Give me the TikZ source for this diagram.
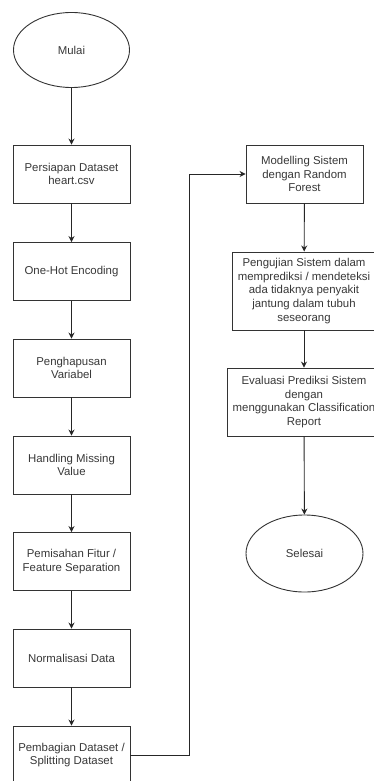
\documentclass[tikz,border=0pt]{standalone}
\usepackage{fontspec}
\setmainfont{Liberation Sans}
\usetikzlibrary{shapes.geometric,arrows.meta}
\begin{document}
\begin{tikzpicture}[x=1pt,y=-1pt,
  every node/.style={font=\fontsize{11.4}{13.7}\selectfont, text=black!78, align=center, inner sep=0pt},
  procbox/.style={draw=black!80, line width=0.9pt, minimum width=117pt, minimum height=58pt},
  termnode/.style={draw=black!80, line width=0.9pt, ellipse, minimum width=116pt, minimum height=75pt},
  flow/.style={draw=black!85, line width=0.9pt, -{Stealth[length=6pt,width=6pt]}}
]
\useasboundingbox (0,0) rectangle (373,781);
\fill[white] (0,0) rectangle (373,781);
\node[termnode] (mulai) at (71.5,50) {Mulai};
\node[procbox] (b1) at (71.5,174) {Persiapan Dataset\\heart.csv};
\node[procbox] (b2) at (71.5,271.5) {One-Hot Encoding};
\node[procbox] (b3) at (71.5,368) {Penghapusan\\Variabel};
\node[procbox] (b4) at (71.5,465) {Handling Missing\\Value};
\node[procbox] (b5) at (71.5,561.5) {Pemisahan Fitur /\\Feature Separation};
\node[procbox] (b6) at (71.5,658) {Normalisasi Data};
\node[procbox] (b7) at (71.5,755) {Pembagian Dataset /\\Splitting Dataset};

\node[procbox] (m) at (304.5,174) {Modelling Sistem\\dengan Random\\Forest};
\node[procbox, minimum width=144pt, minimum height=78pt] (p) at (304,291) {Pengujian Sistem dalam\\memprediksi / mendeteksi\\ada tidaknya penyakit\\jantung dalam tubuh\\seseorang};
\node[procbox, minimum width=154pt, minimum height=68pt] (e) at (304,402) {Evaluasi Prediksi Sistem\\dengan\\menggunakan Classification\\Report};
\node[termnode, minimum width=117pt, minimum height=77pt] (s) at (304.5,553.5) {Selesai};

\coordinate (c1) at (189,755);
\coordinate (c2) at (189,174);

\draw[flow] (mulai) -- (b1);
\draw[flow] (b1) -- (b2);
\draw[flow] (b2) -- (b3);
\draw[flow] (b3) -- (b4);
\draw[flow] (b4) -- (b5);
\draw[flow] (b5) -- (b6);
\draw[flow] (b6) -- (b7);
\draw[flow] (b7.east) -- (c1) -- (c2) -- (m.west);
\draw[flow] (m) -- (p);
\draw[flow] (p) -- (e);
\draw[flow] (e) -- (s);
\end{tikzpicture}
\end{document}
